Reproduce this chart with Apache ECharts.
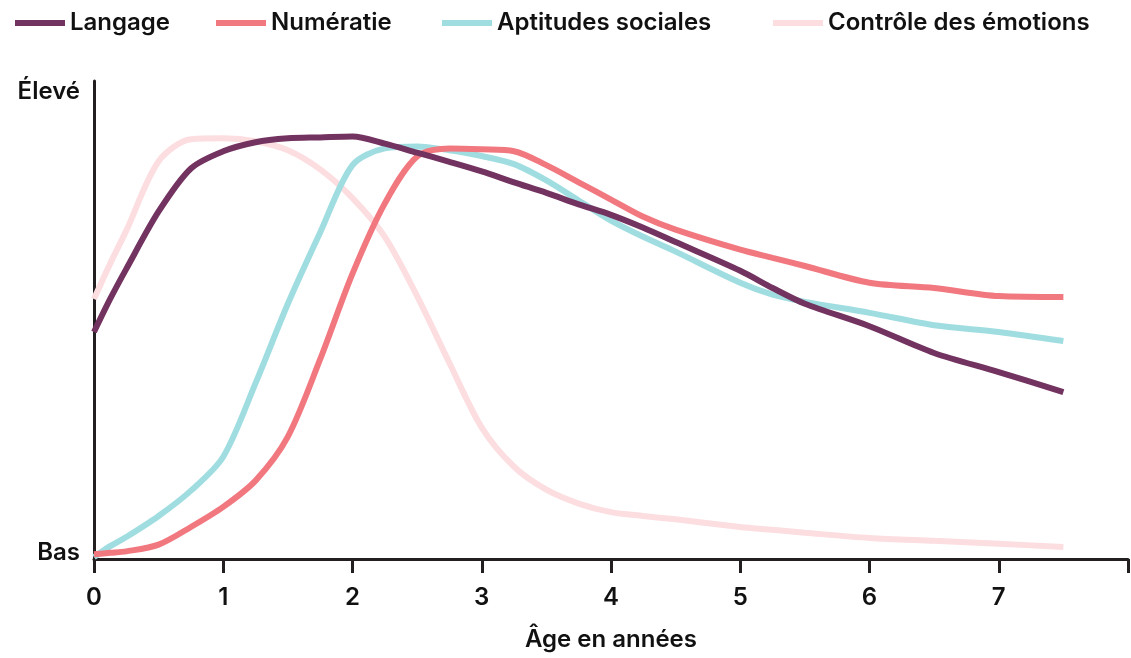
<!DOCTYPE html>
<html>
<head>
<meta charset="utf-8">
<script src="https://cdn.jsdelivr.net/npm/echarts@6/dist/echarts.min.js"></script>
<style>
html, body { margin: 0; padding: 0; background: #fff; }
#chart { width: 1131px; height: 658px; }
</style>
</head>
<body>
<div id="chart"></div>
<script>
// âges (années)
var ages = [0, 0.125, 0.25, 0.5, 0.75, 1, 1.25, 1.5, 1.75, 2, 2.25, 2.5, 2.75, 3, 3.25, 3.5, 3.75, 4, 4.25, 4.5, 5, 5.25, 5.5, 6, 6.5, 7, 7.5]

// niveaux relatifs (0 = bas, 100 = haut de l'axe)
var langage = [47.5, 54.4, 60.7, 72.7, 81.7, 85.3, 87.2, 88.0, 88.2, 88.4, 86.9, 85.0, 83.1, 81.1, 78.8, 76.6, 74.2, 72.0, 69.3, 66.3, 60.3, 56.7, 53.4, 48.7, 43.1, 39.1, 34.9]
var numeratie = [1.0, 1.3, 1.6, 3.0, 6.7, 10.9, 16.4, 25.6, 41.8, 59.7, 74.4, 84.2, 85.9, 85.7, 85.3, 82.4, 78.8, 75.2, 71.6, 68.9, 64.7, 63.0, 61.3, 57.8, 56.7, 55.0, 54.8]
var aptitudes = [0.4, 2.7, 4.6, 9.0, 14.3, 21.4, 36.8, 53.4, 68.3, 82.4, 85.9, 86.3, 85.5, 84.3, 82.6, 79.2, 75.0, 70.8, 67.4, 64.3, 57.8, 55.3, 53.8, 51.5, 48.9, 47.5, 45.6]
var emotions = [54.4, 61.8, 68.7, 83.2, 87.8, 88.0, 87.4, 85.5, 81.5, 75.5, 67.4, 55.0, 41.0, 27.5, 19.3, 14.5, 11.6, 9.8, 9.0, 8.3, 6.7, 6.1, 5.5, 4.4, 3.8, 3.2, 2.5]

var names = ['Langage', 'Numératie', 'Aptitudes sociales', 'Contrôle des émotions']
var colors = ['#733360', '#f27880', '#a0dde1', '#fcdde0']
var values = [langage, numeratie, aptitudes, emotions]
var xTicks = [0, 1, 2, 3, 4, 5, 6, 7]
var yLabels = { low: 'Bas', high: 'Élevé' }

var font = 'Inter'
var legendLeft = [10, 211, 437, 768]

function pairs(ys) {
	return ages.map(function(a, i) { return [a, ys[i]] })
}

var chart = echarts.init(document.getElementById('chart'))

var txt = { fontSize: 24, fontWeight: 600, color: '#111', fontFamily: font }

var option = {
	animation: false,
	textStyle: { fontFamily: font, color: '#111' },
	legend: names.map(function(n, i) {
		return {
			data: [n],
			left: legendLeft[i],
			top: 6,
			icon: 'rect',
			itemWidth: 50,
			itemHeight: 6,
			itemGap: 0,
			textStyle: txt
		}
	}),
	grid: { left: 94, right: 3, top: 81, bottom: 99, containLabel: false },
	xAxis: {
		type: 'value',
		min: 0,
		max: 8,
		interval: 1,
		name: 'Âge en années',
		nameLocation: 'middle',
		nameGap: 69,
		nameTextStyle: txt,
		axisLine: { lineStyle: { color: '#231f20', width: 3 } },
		axisTick: { length: 14, lineStyle: { color: '#231f20', width: 3 } },
		axisLabel: Object.assign({
			margin: 27,
			formatter: function(v) { return xTicks.indexOf(v) >= 0 ? String(v) : '' }
		}, txt),
		splitLine: { show: false }
	},
	yAxis: {
		type: 'value',
		min: 0,
		max: 100,
		axisLine: { show: true, lineStyle: { color: '#231f20', width: 3 } },
		axisTick: { show: false },
		splitLine: { show: false },
		axisLabel: Object.assign({
			customValues: [1.3, 97.7],
			margin: 14,
			formatter: function(v) { return v < 50 ? yLabels.low : yLabels.high }
		}, txt)
	},
	series: names.map(function(n, i) {
		return {
			name: n,
			type: 'line',
			data: pairs(values[i]),
			smooth: 0.3,
			showSymbol: false,
			color: colors[i],
			lineStyle: { width: 6, color: colors[i] },
			z: 4 - i // les lignes claires en dessous
		}
	})
}

chart.setOption(option)
</script>
</body>
</html>
